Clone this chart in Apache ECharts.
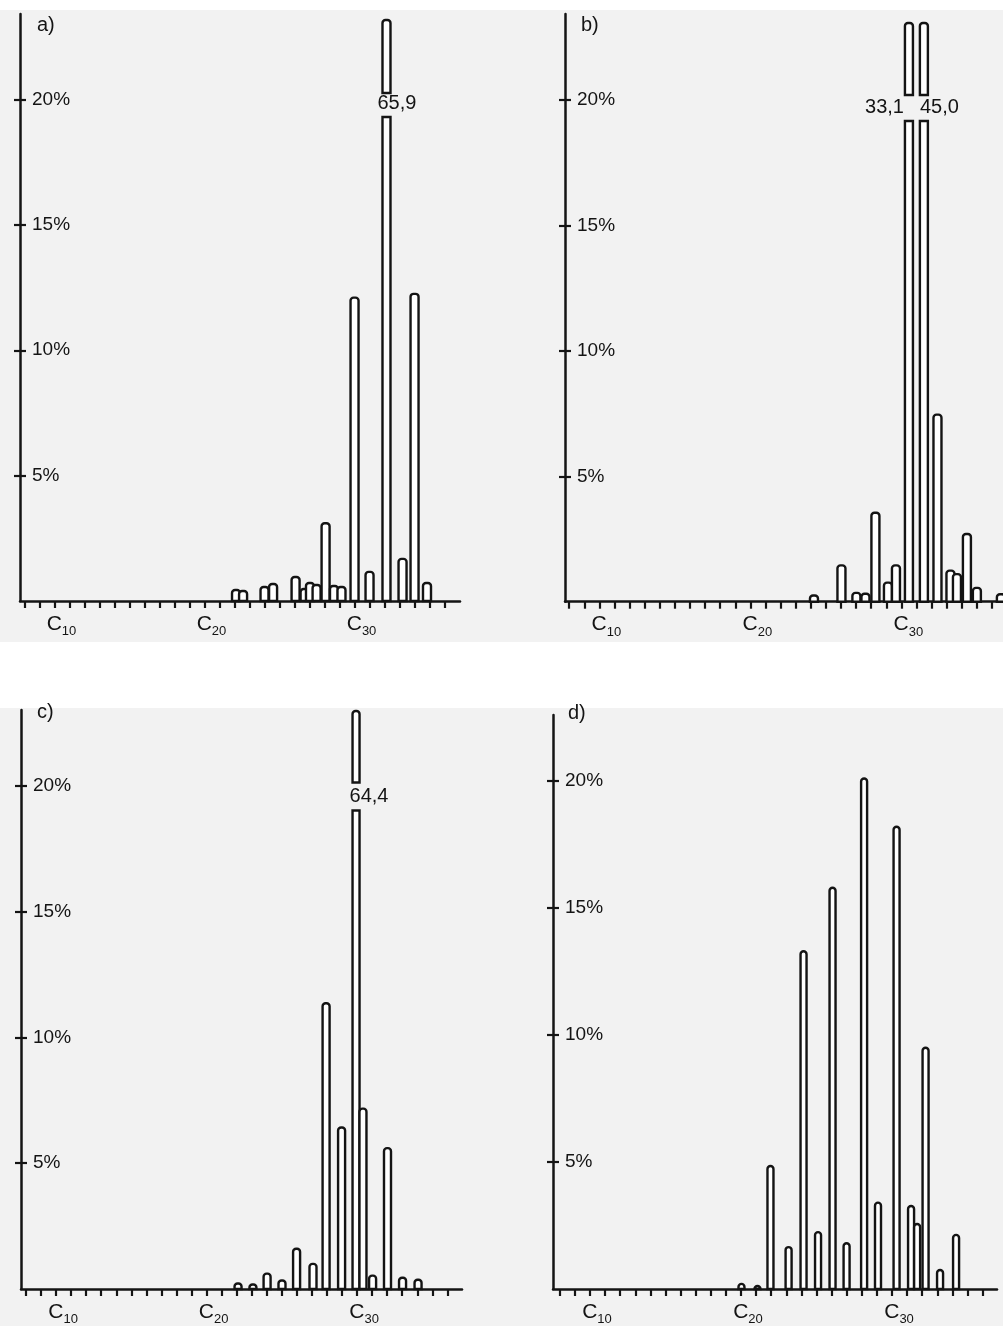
<!DOCTYPE html>
<html>
<head>
<meta charset="utf-8">
<script src="https://cdn.jsdelivr.net/npm/echarts@6/dist/echarts.min.js"></script>
<style>
html,body{margin:0;padding:0;background:#fff;}
#chart{width:1003px;height:1326px;}
</style>
</head>
<body>
<div id="chart"></div>
<script>
// ---- data (carbon-number position, percent) ----
const aCarbon  = [22.1, 22.57, 24.0, 24.57, 26.07, 26.67, 27.03, 27.47, 28.07, 28.63, 29.13, 30.0, 31.0, 32.13, 33.2, 34.0, 34.83];
const aPercent = [0.44, 0.4, 0.56, 0.68, 0.96, 0.48, 0.72, 0.64, 3.1, 0.6, 0.56, 12.1, 1.16, 65.9, 1.68, 12.25, 0.72];

const bCarbon  = [24.21, 26.03, 27.02, 27.62, 28.28, 29.11, 29.64, 30.5, 31.49, 32.39, 33.25, 33.68, 34.34, 35.0, 36.59];
const bPercent = [0.25, 1.45, 0.35, 0.32, 3.55, 0.76, 1.45, 33.1, 45.0, 7.46, 1.24, 1.1, 2.7, 0.55, 0.3];

const cCarbon  = [22.09, 23.08, 24.02, 25.01, 25.98, 27.07, 27.94, 28.97, 29.93, 30.39, 31.03, 32.02, 33.02, 34.05];
const cPercent = [0.22, 0.18, 0.61, 0.34, 1.6, 1.0, 11.36, 6.42, 64.4, 7.17, 0.53, 5.6, 0.45, 0.37];

const dCarbon  = [20.03, 21.09, 21.95, 23.15, 24.14, 25.1, 26.06, 26.99, 28.15, 29.07, 30.3, 31.26, 31.66, 32.22, 33.18, 34.24];
const dPercent = [0.2, 0.12, 4.84, 1.65, 13.3, 2.24, 15.8, 1.8, 20.1, 3.4, 18.2, 3.27, 2.56, 9.5, 0.75, 2.13];

const xTickCarbons  = [8, 9, 10, 11, 12, 13, 14, 15, 16, 17, 18, 19, 20, 21, 22, 23, 24, 25, 26, 27, 28, 29, 30, 31, 32, 33, 34, 35, 36];
const xLabelCarbons = [10, 20, 30];
const yTickValues   = [5, 10, 15, 20];
const panelNames    = ['a)', 'b)', 'c)', 'd)'];

// ---- layout ----
const FONT = '"Liberation Sans", Arial, sans-serif';
const INK = '#141414';
const panels = [
  {carbon:aCarbon, pct:aPercent, left:20,  top:14,  width:440, height:587,   xMin:7.7,  xMax:37.03, yMax:23.41, barPx:8,
   titleX:37, titleY:25, breakLevel:19.86, topPad:6, gapUp:10, gapDown:14, labels:[{align:'left', dx:-5}]},
  {carbon:bCarbon, pct:bPercent, left:565, top:14,  width:438, height:587.7, xMin:7.72, xMax:36.73, yMax:23.44, barPx:8,
   titleX:581, titleY:25, breakLevel:19.73, topPad:9, gapUp:12, gapDown:14, labels:[{align:'right', dx:-1}, {align:'left', dx:0}]},
  {carbon:cCarbon, pct:cPercent, left:21,  top:710, width:441, height:582.5, xMin:7.67, xMax:36.97, yMax:23.02, barPx:7,
   titleX:37, titleY:712, breakLevel:19.58, topPad:1, gapUp:14, gapDown:14, labels:[{align:'left', dx:-3}]},
  {carbon:dCarbon, pct:dPercent, left:553, top:715, width:444, height:574,   xMin:7.55, xMax:36.95, yMax:22.6,  barPx:6,
   titleX:568, titleY:713, breakLevel:19.6, topPad:1, gapUp:12, gapDown:12, labels:[]}
];

const grids = [], xAxes = [], yAxes = [], series = [];
const graphics = [
  {type:'rect', z:-10, shape:{x:0, y:10, width:1003, height:632}, style:{fill:'#f2f2f2'}, silent:true},
  {type:'rect', z:-10, shape:{x:0, y:708, width:1003, height:618}, style:{fill:'#f2f2f2'}, silent:true}
];

panels.forEach(function (p, i) {
  grids.push({left:p.left, top:p.top, width:p.width, height:p.height, containLabel:false});
  xAxes.push({
    type:'value', gridIndex:i, min:p.xMin, max:p.xMax,
    axisLine:{show:true, onZero:false, lineStyle:{color:INK, width:2.5}},
    axisTick:{show:true, inside:false, length:7, customValues:xTickCarbons, lineStyle:{color:INK, width:2.2}},
    splitLine:{show:false},
    axisLabel:{
      show:true, customValues:xLabelCarbons, margin:9, padding:[0,0,0,14],
      formatter:function (v) { return '{c|C}{s|' + v + '}'; },
      rich:{
        c:{fontSize:21, fontFamily:FONT, color:INK, lineHeight:28},
        s:{fontSize:13, fontFamily:FONT, color:INK, verticalAlign:'bottom', lineHeight:13}
      }
    }
  });
  yAxes.push({
    type:'value', gridIndex:i, min:0, max:p.yMax, position:'left',
    axisLine:{show:true, lineStyle:{color:INK, width:2.5}},
    axisTick:{show:true, inside:false, length:6, customValues:yTickValues, lineStyle:{color:INK, width:2.2}},
    splitLine:{show:false},
    axisLabel:{show:true, inside:true, margin:12, customValues:yTickValues,
      formatter:function (v) { return v + '%'; },
      fontSize:19, fontFamily:FONT, color:INK}
  });
  yAxes.push({
    type:'value', gridIndex:i, min:0, max:p.yMax, position:'left', offset:0,
    axisLine:{show:false},
    axisTick:{show:true, inside:true, length:6, customValues:yTickValues, lineStyle:{color:INK, width:2.2}},
    splitLine:{show:false},
    axisLabel:{show:false}
  });

  const brokenIdx = [];
  p.pct.forEach(function (v, k) { if (v > p.yMax) brokenIdx.push(k); });
  const data = p.carbon.map(function (c, k) { return [c, p.pct[k]]; });

  series.push({
    type:'custom', xAxisIndex:i, yAxisIndex:2 * i, clip:false, z:5,
    data:data,
    renderItem:function (params, api) {
      const x = api.value(0), v = api.value(1);
      const half = p.barPx / 2;
      const base = api.coord([x, 0]);
      const style = {fill:'#ffffff', stroke:INK, lineWidth:2.4};
      if (v <= p.yMax) {
        const top = api.coord([x, v]);
        return {type:'rect', shape:{x:base[0] - half, y:top[1], width:p.barPx, height:base[1] - top[1], r:[3,3,0,0]}, style:style};
      }
      const lab = api.coord([x, p.breakLevel]);
      const topY = p.top + p.topPad;
      const order = brokenIdx.indexOf(params.dataIndex);
      const cfg = p.labels[order] || {align:'left', dx:0};
      const lowerTop = lab[1] + p.gapDown;
      const upperBottom = lab[1] - p.gapUp;
      return {
        type:'group',
        children:[
          {type:'rect', shape:{x:base[0] - half, y:lowerTop, width:p.barPx, height:base[1] - lowerTop}, style:style},
          {type:'rect', shape:{x:base[0] - half, y:topY, width:p.barPx, height:upperBottom - topY, r:[3,3,0,0]}, style:style},
          {type:'text', style:{text:v.toFixed(1).replace('.', ','), x:base[0] - half + cfg.dx, y:lab[1],
            align:cfg.align, verticalAlign:'middle', font:'20px ' + FONT, fill:INK}}
        ]
      };
    }
  });

  graphics.push({type:'text', z:10, style:{text:panelNames[i], x:p.titleX, y:p.titleY,
    verticalAlign:'middle', font:'20px ' + FONT, fill:INK}});
});

const chart = echarts.init(document.getElementById('chart'), null, {renderer:'canvas'});
chart.setOption({
  backgroundColor:'#ffffff',
  animation:false,
  grid:grids,
  xAxis:xAxes,
  yAxis:yAxes,
  series:series,
  graphic:graphics
});
</script>
</body>
</html>
